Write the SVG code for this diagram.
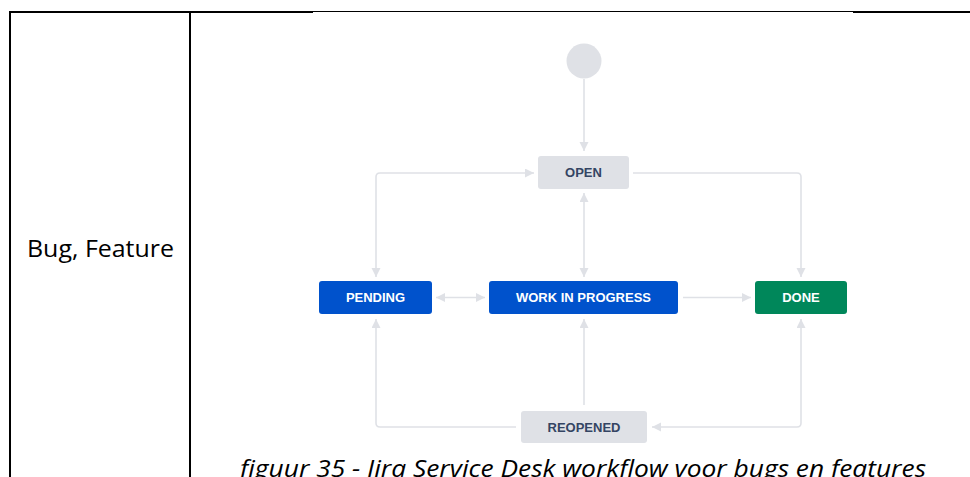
<svg xmlns="http://www.w3.org/2000/svg" width="970" height="477" viewBox="0 0 970 477">
  <defs>
    <marker id="arrow" markerUnits="userSpaceOnUse" markerWidth="10" markerHeight="10" refX="9" refY="4.5" orient="auto-start-reverse">
      <path d="M0,0 L9,4.5 L0,9 z" fill="#dfe1e6"/>
    </marker>
    <style>
      .grid { stroke: #000; fill: none; }
      .edge { fill: none; stroke: #dfe1e6; stroke-width: 1.6; }
      .one { marker-end: url(#arrow); }
      .two { marker-start: url(#arrow); marker-end: url(#arrow); }
      .label { font-family: "Liberation Sans", Arial, sans-serif; font-weight: bold; font-size: 13px; text-anchor: middle; }
      .todo rect { fill: #dfe1e6; }
      .todo text { fill: #344563; }
      .prog rect { fill: #0052cc; }
      .done rect { fill: #00875a; }
      .prog text, .done text { fill: #ffffff; }
      .doc { font-family: "Open Sans", "Noto Sans", sans-serif; font-size: 23px; fill: #000; }
    </style>
  </defs>

  <rect width="970" height="477" fill="#ffffff"/>

  <!-- table borders -->
  <g id="table">
    <path class="grid" stroke-width="2" d="M9,12 H313 M853,12 H970"/>
    <path class="grid" stroke-width="1" d="M313,11.5 H853"/>
    <path class="grid" stroke-width="2" d="M10,11 V477 M190,11 V477"/>
  </g>

  <text class="doc" x="27" y="257" textLength="147" lengthAdjust="spacingAndGlyphs">Bug, Feature</text>

  <!-- workflow transitions -->
  <g id="connectors">
    <path class="edge one" d="M584,79 V151"/>
    <path class="edge two" d="M376,277 V177 Q376,173 380,173 H534"/>
    <path class="edge one" d="M633,173 H797 Q801,173 801,177 V277"/>
    <path class="edge two" d="M584,193 V277"/>
    <path class="edge two" d="M436,297.5 H485"/>
    <path class="edge one" d="M683,297.5 H751"/>
    <path class="edge one" d="M516,427 H380 Q376,427 376,423 V319"/>
    <path class="edge one" d="M584,405 V319"/>
    <path class="edge two" d="M652,427 H797 Q801,427 801,423 V319"/>
  </g>

  <!-- workflow states -->
  <g id="start">
    <circle cx="584" cy="61" r="17.5" fill="#dfe1e6"/>
  </g>
  <g id="open" class="todo">
    <rect x="538" y="156" width="91" height="33" rx="3"/>
    <text class="label" x="583.5" y="177.2">OPEN</text>
  </g>
  <g id="pending" class="prog">
    <rect x="319" y="281" width="113" height="33" rx="3"/>
    <text class="label" x="375.5" y="302.2">PENDING</text>
  </g>
  <g id="work-in-progress" class="prog">
    <rect x="489" y="281" width="189" height="33" rx="3"/>
    <text class="label" x="583.5" y="302.2">WORK IN PROGRESS</text>
  </g>
  <g id="done" class="done">
    <rect x="755" y="281" width="92" height="33" rx="3"/>
    <text class="label" x="801" y="302.2">DONE</text>
  </g>
  <g id="reopened" class="todo">
    <rect x="521" y="411" width="126" height="32" rx="3"/>
    <text class="label" x="584" y="431.7">REOPENED</text>
  </g>

  <text class="doc" x="240" y="476.5" font-style="italic" textLength="686" lengthAdjust="spacingAndGlyphs">figuur 35 - Jira Service Desk workflow voor bugs en features</text>
</svg>
